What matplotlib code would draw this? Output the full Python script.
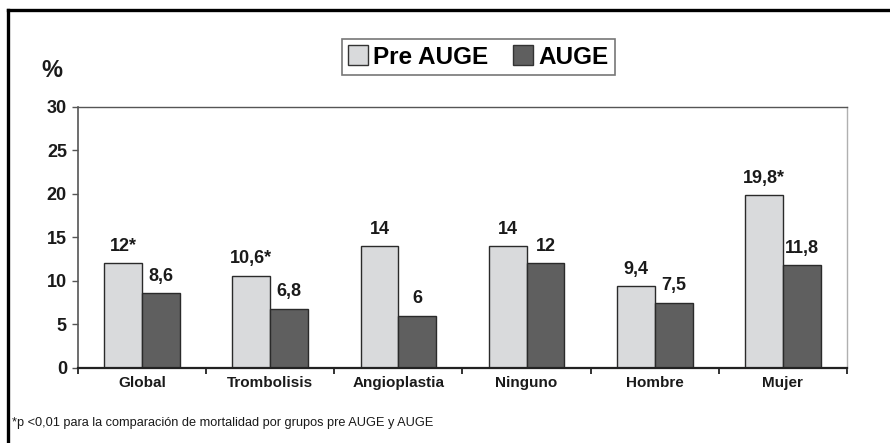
import matplotlib
matplotlib.use("Agg")
import matplotlib.pyplot as plt
import numpy as np
from matplotlib.patches import Patch
from matplotlib.lines import Line2D

categories = ["Global", "Trombolisis", "Angioplastia", "Ninguno", "Hombre", "Mujer"]
pre_auge = [12, 10.6, 14, 14, 9.4, 19.8]
auge = [8.6, 6.8, 6, 12, 7.5, 11.8]
pre_labels = ["12*", "10,6*", "14", "14", "9,4", "19,8*"]
auge_labels = ["8,6", "6,8", "6", "12", "7,5", "11,8"]
yticks = [0, 5, 10, 15, 20, 25, 30]
footnote = "*p <0,01 para la comparación de mortalidad por grupos pre AUGE y AUGE"

plt.rcParams['font.family'] = ['Liberation Sans', 'DejaVu Sans']

c_pre = "#d9dadc"
c_auge = "#5f5f5f"
edge = "#2a2a2a"

fig = plt.figure(figsize=(8.9, 4.43), dpi=100)
ax = fig.add_axes([78/890, 1-368/443, (847-78)/890, (368-106.5)/443])

x = np.arange(len(categories))
w = 0.295
ax.bar(x - w/2, pre_auge, w, color=c_pre, edgecolor=edge, linewidth=1.0)
ax.bar(x + w/2, auge, w, color=c_auge, edgecolor=edge, linewidth=1.0)

for xi, v, lab in zip(x, pre_auge, pre_labels):
    ax.annotate(lab, (xi - w/2, v), xytext=(0, 6), textcoords="offset points",
                ha="center", va="bottom", fontsize=13, fontweight="bold", color="#1a1a1a")
for xi, v, lab in zip(x, auge, auge_labels):
    ax.annotate(lab, (xi + w/2, v), xytext=(0, 6), textcoords="offset points",
                ha="center", va="bottom", fontsize=13, fontweight="bold", color="#1a1a1a")

ax.set_xlim(-0.5, len(categories) - 0.5)
ax.set_ylim(0, 30)
ax.set_yticks(yticks)
ax.set_yticklabels([str(t) for t in yticks], fontsize=13, fontweight="bold", color="#1a1a1a")
ax.tick_params(axis="y", direction="out", length=4, width=1, color="#555555", pad=4)

ax.set_xticks(np.arange(-0.5, len(categories), 1.0))
ax.set_xticklabels([])
ax.tick_params(axis="x", which="major", direction="out", length=4, width=1.3, color="#222222")
ax.set_xticks(x, minor=True)
ax.set_xticklabels(categories, minor=True, fontsize=11, fontweight="bold", color="#1a1a1a")
ax.tick_params(axis="x", which="minor", length=0, pad=6)

ax.spines["left"].set_color("#555555")
ax.spines["left"].set_linewidth(1.2)
ax.spines["bottom"].set_color("#222222")
ax.spines["bottom"].set_linewidth(1.6)
ax.spines["top"].set_color("#555555")
ax.spines["top"].set_linewidth(1.0)
ax.spines["right"].set_color("#b0b0b0")
ax.spines["right"].set_linewidth(1.0)

fig.text(41/890, 1-59/443, "%", fontsize=17, fontweight="bold", color="#1a1a1a",
         ha="left", va="top")

handles = [Patch(facecolor=c_pre, edgecolor="#333333", linewidth=1.0, label="Pre AUGE"),
           Patch(facecolor=c_auge, edgecolor="#333333", linewidth=1.0, label="AUGE")]
leg = fig.legend(handles=handles, loc="center", bbox_to_anchor=(478/890, 1-57/443),
                 ncol=2, prop={"weight": "bold", "size": 17.5},
                 frameon=True, fancybox=False, handlelength=0.85, handleheight=0.85,
                 handletextpad=0.2, columnspacing=1.0, borderpad=0.25, borderaxespad=0)
leg.get_frame().set_edgecolor("#555555")
leg.get_frame().set_linewidth(1.2)

fig.text(12/890, 1-423/443, footnote, fontsize=9.2, color="#1a1a1a", ha="left", va="center")

# outer border (top and left)
fig.add_artist(Line2D([8/890, 1.0], [1-10/443, 1-10/443], transform=fig.transFigure,
                      color="black", linewidth=2.4))
fig.add_artist(Line2D([8/890, 8/890], [0.0, 1-10/443], transform=fig.transFigure,
                      color="black", linewidth=2.4))

fig.savefig("out.png", dpi=100)
